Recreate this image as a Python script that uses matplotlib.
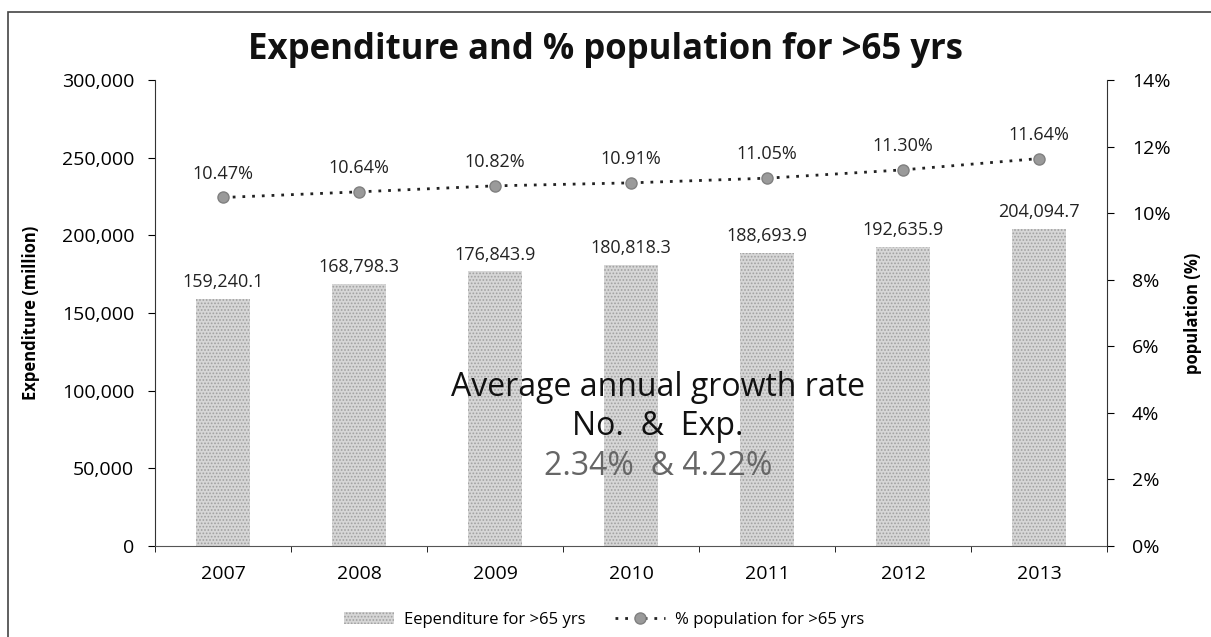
import matplotlib
matplotlib.use("Agg")
import matplotlib.pyplot as plt
import numpy as np
from matplotlib.ticker import FuncFormatter, FixedLocator
from matplotlib.patches import Rectangle

years = ["2007", "2008", "2009", "2010", "2011", "2012", "2013"]
expenditure = [159240.1, 168798.3, 176843.9, 180818.3, 188693.9, 192635.9, 204094.7]
pop_pct = [10.47, 10.64, 10.82, 10.91, 11.05, 11.30, 11.64]
bar_labels = ["159,240.1", "168,798.3", "176,843.9", "180,818.3", "188,693.9", "192,635.9", "204,094.7"]
pct_labels = ["10.47%", "10.64%", "10.82%", "10.91%", "11.05%", "11.30%", "11.64%"]

plt.rcParams['font.family'] = ['Open Sans', 'DejaVu Sans']
plt.rcParams['hatch.linewidth'] = 0.8

fig = plt.figure(figsize=(12.11, 6.37), dpi=100)
ax = fig.add_axes([155/1211, 1-546/637, (1107-155)/1211, (546-80)/637])
ax2 = ax.twinx()

x = np.arange(len(years))
bars = ax.bar(x, expenditure, width=0.4, color='#d6d6d6', edgecolor='#a0a0a0',
              hatch='.....', linewidth=0, label='Eependiture for >65 yrs', zorder=2)
for xi, v, lab in zip(x, expenditure, bar_labels):
    ax.text(xi, v + 5000, lab, ha='center', va='bottom', fontsize=13, color='#222222')

ax.set_xlim(-0.5, len(years) - 0.5)
ax.set_ylim(0, 300000)
ax.yaxis.set_major_locator(FixedLocator(np.arange(0, 300001, 50000)))
ax.yaxis.set_major_formatter(FuncFormatter(lambda v, p: f"{int(v):,}"))
ax.set_xticks(x)
ax.set_xticklabels(years)
ax.xaxis.set_minor_locator(FixedLocator(np.arange(-0.5, len(years), 1.0)))
ax.tick_params(axis='x', which='major', length=0, pad=14, labelsize=14)
ax.tick_params(axis='x', which='minor', length=4, direction='out')
ax.tick_params(axis='y', length=5, labelsize=14, pad=10)
ax.set_ylabel('Expenditure (million)', fontsize=12, fontweight='bold')
ax.yaxis.set_label_coords((40 - 155) / 952, 0.5)
for s in ['top', 'right']:
    ax.spines[s].set_visible(False)
ax.spines['left'].set_color('#333333')
ax.spines['bottom'].set_color('#555555')

line, = ax2.plot(x, pop_pct, linestyle=(0, (1, 2.5)), color='#222222', linewidth=2,
                 marker='o', markersize=8, markerfacecolor='#9a9a9a', markeredgecolor='#808080',
                 label='% population for >65 yrs', zorder=3)
for xi, v, lab in zip(x, pop_pct, pct_labels):
    ax2.text(xi, v + 0.45, lab, ha='center', va='bottom', fontsize=13, color='#222222')
ax2.set_ylim(0, 14)
ax2.yaxis.set_major_locator(FixedLocator(np.arange(0, 15, 2)))
ax2.yaxis.set_major_formatter(FuncFormatter(lambda v, p: f"{int(v)}%"))
ax2.tick_params(axis='y', length=5, labelsize=14, pad=13)
ax2.set_ylabel('population (%)', fontsize=12, fontweight='bold')
ax2.yaxis.set_label_coords((1184 - 155) / 952, 0.5)
for s in ['top', 'left', 'bottom']:
    ax2.spines[s].set_visible(False)
ax2.spines['right'].set_color('#333333')

ax.text(3.2, 102000, 'Average annual growth rate', ha='center', va='center',
        fontsize=23, color='#111111', zorder=5)
ax.text(3.2, 77000, 'No.  &  Exp.', ha='center', va='center',
        fontsize=23, color='#111111', zorder=5)
ax.text(3.2, 51000, '2.34%  & 4.22%', ha='center', va='center',
        fontsize=23, color='#666666', zorder=5)

fig.text(0.5, 1-50/637, 'Expenditure and % population for >65 yrs', ha='center', va='center',
         fontsize=25, fontweight='bold', color='#111111')

fig.legend([bars, line], ['Eependiture for >65 yrs', '% population for >65 yrs'],
           loc='center', bbox_to_anchor=(604/1211, 1-620/637), ncol=2, frameon=False,
           fontsize=12, columnspacing=1.8, handlelength=3, handletextpad=0.6)

fig.patches.append(Rectangle((8/1211, -0.05), 1.2, 1-12/637+0.05, transform=fig.transFigure,
                             fill=False, edgecolor='#444444', linewidth=1.2))

fig.savefig('out.png', dpi=100)
